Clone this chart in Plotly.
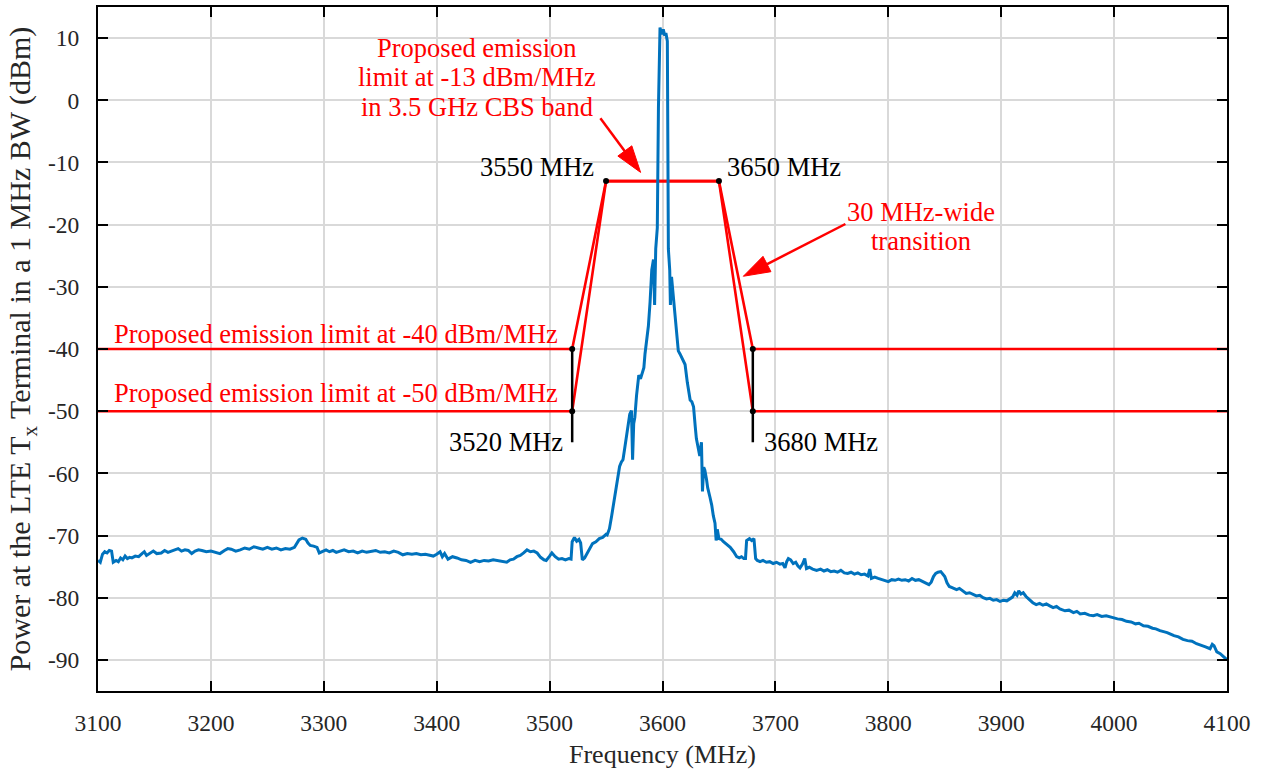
import plotly.graph_objects as go

# ---------------- data ----------------
freq_left = [3100, 3102, 3104, 3106, 3108, 3110, 3112, 3113.5, 3116, 3118, 3120, 3122, 3124, 3126, 3128, 3130,
             3133, 3136, 3139, 3141, 3143, 3146, 3149, 3152, 3156, 3159, 3162, 3165, 3168, 3171, 3174, 3177,
             3180, 3183, 3186, 3189, 3192, 3196, 3200, 3204, 3208, 3212, 3215, 3218, 3222, 3226, 3230, 3234,
             3238, 3242, 3246, 3250, 3254, 3258, 3262, 3266, 3270, 3274, 3276, 3278, 3281, 3284, 3286, 3288,
             3291, 3294, 3296, 3299, 3302, 3305, 3308, 3311, 3314, 3318, 3322, 3326, 3330, 3334, 3338, 3342,
             3346, 3350, 3354, 3358, 3362, 3366, 3370, 3374, 3378, 3382, 3386, 3390, 3394, 3397, 3400, 3403,
             3405, 3407, 3410, 3414, 3418, 3422, 3426, 3430, 3434, 3438, 3442, 3446, 3450, 3454, 3458, 3462,
             3465, 3468, 3471, 3474, 3477, 3480, 3483, 3486, 3489, 3492, 3495, 3497, 3500, 3502, 3505, 3508,
             3511, 3514, 3517, 3519, 3520, 3522, 3524, 3526, 3527.5, 3529, 3531, 3533, 3536, 3538, 3541, 3544,
             3547, 3550]
power_left = [-74.0, -74.3, -73.0, -72.6, -72.8, -72.4, -72.5, -74.3, -74.0, -74.2, -73.6, -73.9, -73.3, -73.7, -73.5, -73.6,
              -73.3, -73.4, -72.9, -72.6, -73.2, -72.8, -72.5, -72.9, -72.8, -72.4, -72.7, -72.5, -72.3, -72.1, -72.5, -72.3,
              -72.4, -72.9, -72.5, -72.3, -72.4, -72.6, -72.5, -72.7, -72.9, -72.4, -72.1, -72.2, -72.5, -72.3, -72.0, -72.2,
              -71.8, -72.0, -72.2, -71.9, -72.2, -72.0, -72.3, -72.1, -72.2, -71.9, -71.2, -70.7, -70.4, -70.6, -71.2, -71.6,
              -71.7, -71.9, -72.8, -72.6, -72.3, -72.6, -72.4, -72.7, -72.5, -72.3, -72.6, -72.5, -72.8, -72.5, -72.7, -72.6,
              -72.4, -72.7, -72.6, -72.8, -72.5, -72.7, -73.1, -72.9, -73.0, -72.9, -73.1, -73.0, -73.2, -73.3, -73.0, -72.6,
              -73.4, -72.9, -73.8, -73.4, -73.6, -73.9, -74.0, -74.3, -74.0, -74.2, -74.0, -74.1, -73.9, -74.0, -74.2, -74.3,
              -73.9, -73.8, -73.4, -73.2, -72.8, -72.3, -72.6, -72.5, -72.8, -73.5, -73.9, -74.0, -73.3, -72.8, -73.4, -73.8,
              -73.7, -73.9, -73.7, -73.8, -71.0, -70.3, -70.9, -70.6, -71.2, -73.9, -73.6, -73.0, -72.1, -71.3, -71.0, -70.5,
              -70.3, -69.8]

freq_center = [3551, 3553, 3555, 3557, 3558, 3559.5, 3561, 3562, 3563.5, 3565, 3566.5, 3568, 3569.5, 3571, 3572.5,
               3573.5, 3574.5, 3575.5, 3577, 3579, 3580.5, 3582, 3583.5, 3584.5, 3586, 3587.5, 3589, 3590.5, 3592,
               3593, 3594, 3595.4, 3596.4, 3597, 3597.8, 3599.3, 3600.7, 3602, 3603, 3604.3, 3604.8, 3605.2, 3606.4,
               3607, 3608, 3609.5, 3611, 3612.5, 3614, 3615.5, 3617, 3618.5, 3620, 3622, 3624.5, 3626, 3627.5, 3629,
               3630, 3631.5, 3633, 3634.5, 3635.4, 3636.5, 3637.5, 3639, 3640, 3642, 3643.6, 3645, 3646.5, 3647.5,
               3648.5, 3650, 3652, 3654, 3657, 3660, 3663, 3665.7, 3668, 3670, 3672, 3673.5, 3674.5, 3677, 3679,
               3681, 3682.5]
power_center = [-69.9, -68.9, -66.8, -64.6, -63.4, -62.3, -60.5, -58.9, -58.2, -57.8, -56.0, -54.4, -52.5, -50.5, -49.9,
                -57.8, -52.0, -51.0, -47.5, -44.2, -44.8, -43.7, -43.0, -40.8, -38.5, -36.3, -32.4, -27.3, -25.6,
                -32.9, -23.9, -20.5, -1.3, 8.5, 11.7, 10.6, 11.4, 10.4, 10.8, 9.5, -7.0, -23.9, -27.3,
                -32.9, -28.4, -31.5, -35.2, -37.5, -40.3, -40.8, -41.4, -41.9, -42.5, -45.4, -48.2, -48.5, -49.3, -52.5,
                -54.4, -55.8, -57.2, -55.0, -62.9, -59.0, -59.5, -61.0, -62.3, -63.8, -65.1, -66.8, -68.0, -70.8,
                -69.0, -70.5, -70.6, -71.0, -71.5, -71.9, -72.6, -73.4, -73.6, -73.4, -73.7, -73.7, -70.8, -70.5, -70.8,
                -70.5, -73.7]

freq_right = [3684, 3686.4, 3689, 3692, 3695, 3698, 3701, 3704, 3706.5, 3708.5, 3710, 3711.5, 3713.5, 3715.8, 3718,
              3720, 3721.8, 3724, 3726, 3727.5, 3730, 3733, 3736.5, 3740, 3743, 3746, 3749, 3752, 3755, 3758, 3761,
              3764, 3767, 3770, 3773, 3776, 3779, 3782, 3783.6, 3785, 3788, 3791, 3794, 3797, 3800, 3803, 3806,
              3809, 3812, 3815, 3818, 3821, 3824, 3827, 3830, 3833, 3836, 3838, 3840, 3842, 3844, 3846.5, 3848.5,
              3850, 3852, 3854, 3857, 3860.5, 3863, 3866.5, 3869, 3872, 3875, 3878, 3881, 3884, 3887, 3890, 3893,
              3896, 3899, 3902, 3905, 3908, 3910, 3912, 3914, 3915.5, 3917.5, 3919.5, 3922, 3925, 3928, 3931, 3934,
              3937, 3940, 3943, 3946, 3949, 3952, 3956.5, 3960, 3964, 3967, 3970, 3974, 3978, 3981.6, 3985, 3989,
              3993, 3996, 3999, 4003, 4007, 4011, 4015, 4019, 4022, 4026, 4030, 4034, 4037, 4040.6, 4044, 4047,
              4049.5, 4053, 4057, 4061, 4065, 4069, 4073, 4077, 4081, 4085, 4087, 4088.5, 4091, 4094, 4097, 4100]
power_right = [-74.0, -74.2, -74.0, -74.3, -74.2, -74.5, -74.3, -74.6, -74.5, -75.2, -74.2, -73.7, -73.9, -74.5, -74.3,
               -74.9, -75.2, -74.6, -73.7, -75.3, -75.1, -75.4, -75.6, -75.4, -75.7, -75.5, -75.8, -75.7, -75.9, -75.6, -76.0,
               -76.1, -75.9, -76.2, -76.0, -76.3, -76.2, -76.5, -75.4, -76.9, -76.7, -76.9, -77.1, -77.2, -77.4, -77.1, -77.2,
               -77.0, -77.2, -77.1, -77.3, -76.9, -77.2, -77.1, -77.4, -77.6, -77.9, -77.5, -76.6, -76.1, -75.9, -75.8, -76.3,
               -76.6, -77.6, -78.2, -78.4, -78.7, -78.5, -78.9, -79.3, -79.2, -79.5, -79.7, -79.6, -80.0, -80.2, -80.1, -80.4,
               -80.3, -80.6, -80.4, -80.5, -80.1, -79.9, -79.2, -79.6, -78.9, -79.4, -79.2, -79.8, -80.3, -80.8, -81.1, -80.9,
               -81.2, -81.0, -81.3, -81.6, -81.4, -81.8, -82.1, -82.0, -82.4, -82.2, -82.6, -82.5, -82.8, -82.9, -82.7, -83.0,
               -82.9, -83.1, -83.2, -83.4, -83.5, -83.8, -83.9, -84.2, -84.1, -84.5, -84.6, -84.9, -85.0, -85.3, -85.4, -85.6,
               -85.8, -86.1, -86.3, -86.7, -86.9, -87.0, -87.4, -87.6, -87.9, -88.2, -87.5, -87.7, -88.7, -89.0, -89.5, -90.0]

# Emission masks
mask_freq = [3100, 3520, 3550, 3650, 3680, 4100]
mask_40 = [-40, -40, -13, -13, -40, -40]
mask_50 = [-50, -50, -13, -13, -50, -50]

# Corner markers
corner_freq = [3550, 3650, 3520, 3520, 3680, 3680]
corner_power = [-13, -13, -40, -50, -40, -50]
edge_freq = [3520, 3680]
edge_top = -40
edge_bottom = -55

# Arrow tail -> head (MHz, dBm)
arrow1_f = [3545, 3580.6]
arrow1_p = [-2.9, -11.6]
arrow2_f = [3762, 3671.6]
arrow2_p = [-19.9, -28.3]

x_ticks = [3100, 3200, 3300, 3400, 3500, 3600, 3700, 3800, 3900, 4000, 4100]
y_ticks = [10, 0, -10, -20, -30, -40, -50, -60, -70, -80, -90]

FONT = "Liberation Serif"
RED = "#FF0000"
BLUE = "#0072BD"

fig = go.Figure()

# red mask lines
for mk in (mask_40, mask_50):
    fig.add_trace(go.Scatter(x=mask_freq, y=mk, mode="lines",
                             line=dict(color=RED, width=2.6), showlegend=False, hoverinfo="skip"))

# black vertical edge lines
for f in edge_freq:
    fig.add_trace(go.Scatter(x=[f, f], y=[edge_top, edge_bottom], mode="lines",
                             line=dict(color="black", width=2.5), showlegend=False, hoverinfo="skip"))

# spectrum
spec_f = freq_left + freq_center + freq_right
spec_p = power_left + power_center + power_right
fig.add_trace(go.Scatter(x=spec_f, y=spec_p, mode="lines",
                         line=dict(color=BLUE, width=3), showlegend=False))

# black corner dots
fig.add_trace(go.Scatter(x=corner_freq, y=corner_power, mode="markers",
                         marker=dict(color="black", size=6), showlegend=False, hoverinfo="skip"))

# red arrows (line + arrow-shaped marker at the head)
for af, ap in ((arrow1_f, arrow1_p), (arrow2_f, arrow2_p)):
    fig.add_trace(go.Scatter(x=af, y=ap, mode="lines+markers",
                             line=dict(color=RED, width=2.5),
                             marker=dict(symbol="arrow", angleref="previous", size=[0, 28],
                                         color=RED, opacity=1, line=dict(width=1, color=RED)),
                             opacity=1, showlegend=False, hoverinfo="skip"))

annotations = []

def txt(x, y, text, color, xanchor="center"):
    annotations.append(dict(x=x, y=y, xref="x", yref="y", text=text, showarrow=False,
                            xanchor=xanchor, yanchor="middle",
                            font=dict(family=FONT, size=26.5, color=color)))

txt(3435.7, 8.46, "Proposed emission", RED)
txt(3435.7, 3.7, "limit at -13 dBm/MHz", RED)
txt(3435.7, -1.06, "in 3.5 GHz CBS band", RED)
txt(3541, -10.8, "3550 MHz", "black", "right")
txt(3655.4, -10.8, "3650 MHz", "black", "left")
txt(3829, -18.0, "30 MHz-wide", RED)
txt(3829, -22.7, "transition", RED)
txt(3112.0, -37.6, "Proposed emission limit at -40 dBm/MHz", RED, "left")
txt(3112.0, -47.1, "Proposed emission limit at -50 dBm/MHz", RED, "left")
txt(3513.6, -55.0, "3520 MHz", "black", "right")
txt(3687.9, -55.0, "3680 MHz", "black", "left")

fig.update_layout(
    width=1261, height=769,
    margin=dict(l=98, r=34, t=5, b=72),
    paper_bgcolor="white", plot_bgcolor="white",
    font=dict(family=FONT, color="black", size=23),
    annotations=annotations,
    showlegend=False,
)
fig.update_xaxes(range=[3100, 4100], tickvals=x_ticks, ticktext=[str(v) for v in x_ticks],
                 showline=True, linecolor="black", linewidth=2, mirror="ticks",
                 ticks="inside", ticklen=10, tickwidth=2, tickcolor="black",
                 showgrid=True, gridcolor="#D9D9D9", gridwidth=1.5, zeroline=False,
                 tickfont=dict(family=FONT, size=23.5, color="#262626"), ticklabelstandoff=10,
                 title=dict(text="Frequency (MHz)", font=dict(family=FONT, size=26, color="#262626"), standoff=10))
fig.update_yaxes(range=[-95, 15], tickvals=y_ticks, ticktext=[str(v) for v in y_ticks],
                 showline=True, linecolor="black", linewidth=2, mirror="ticks",
                 ticks="inside", ticklen=10, tickwidth=2, tickcolor="black",
                 showgrid=True, gridcolor="#D9D9D9", gridwidth=1.5, zeroline=False,
                 tickfont=dict(family=FONT, size=23.5, color="#262626"), ticklabelstandoff=12,
                 title=dict(text="Power at the LTE T<sub>x</sub> Terminal in a 1 MHz BW (dBm)",
                            font=dict(family=FONT, size=30, color="#262626"), standoff=8))

fig.write_html("out.html")
